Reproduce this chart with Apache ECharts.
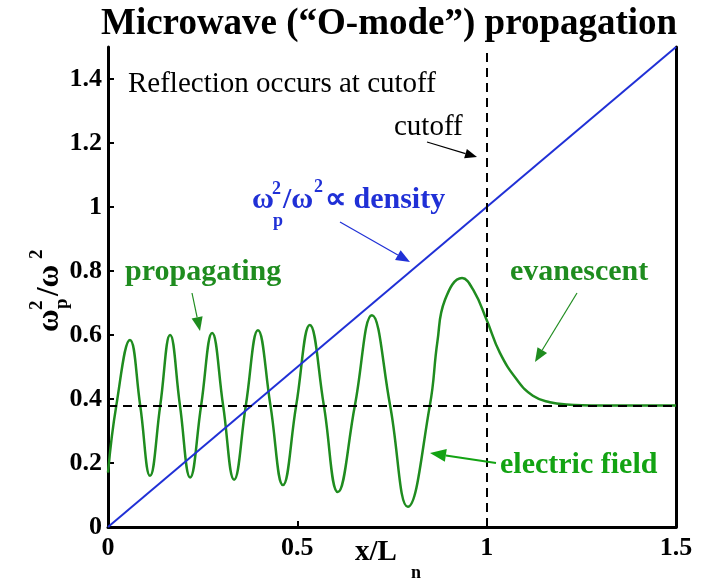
<!DOCTYPE html>
<html>
<head>
<meta charset="UTF-8">
<title>Microwave O-mode propagation</title>
<script src="https://cdn.jsdelivr.net/npm/echarts@6/dist/echarts.min.js"></script>
<style>
    html, body { margin: 0; padding: 0; background: #fff; }
    #chart { width: 702px; height: 581px; }
</style>
</head>
<body>
<div id="chart"></div>
<script>
    // values
    const densityX = [0, 1.5];
    const densityY = [0, 1.5];
    const fieldX = [0, 0.022, 0.058, 0.085, 0.111, 0.138, 0.164, 0.19, 0.217, 0.246, 0.275, 0.304,
        0.333, 0.364, 0.396, 0.429, 0.462, 0.497, 0.533, 0.57, 0.607, 0.652, 0.697, 0.745, 0.792,
        0.85, 0.87, 0.89, 0.935, 0.965, 1.0, 1.035, 1.08, 1.122, 1.167, 1.21, 1.3, 1.5];
    const fieldY = [0.17, 0.38, 0.584, 0.38, 0.16, 0.38, 0.60, 0.38, 0.155, 0.38, 0.606, 0.38,
        0.148, 0.38, 0.615, 0.38, 0.131, 0.38, 0.631, 0.38, 0.109, 0.38, 0.662, 0.38, 0.063,
        0.38, 0.58, 0.71, 0.778, 0.74, 0.647, 0.544, 0.46, 0.41, 0.39, 0.383, 0.38, 0.38];
    const baseline = 0.38;
    const cutoffX = 1;
    const xTicks = [0, 0.5, 1, 1.5];
    const yTicks = [0, 0.2, 0.4, 0.6, 0.8, 1, 1.2, 1.4];

    const serif = 'Liberation Serif';
    const green = '#1f8c1f';
    const brightGreen = '#13a313';
    const blue = '#2030d6';

    const chart = echarts.init(document.getElementById('chart'));

    function zip(xs, ys) {
        return xs.map((x, i) => [x, ys[i]]);
    }

    // line with a filled head at (x2, y2)
    function arrow(x1, y1, x2, y2, color, w, head) {
        const a = Math.atan2(y2 - y1, x2 - x1);
        const bx = x2 - head * Math.cos(a), by = y2 - head * Math.sin(a);
        const hw = head * 0.4;
        return [
            { type: 'line', silent: true, z: 100,
              shape: { x1: x1, y1: y1, x2: bx, y2: by },
              style: { stroke: color, lineWidth: w } },
            { type: 'polygon', silent: true, z: 100,
              shape: { points: [[x2, y2],
                  [bx + hw * Math.sin(a), by - hw * Math.cos(a)],
                  [bx - hw * Math.sin(a), by + hw * Math.cos(a)]] },
              style: { fill: color } }
        ];
    }

    function txt(x, y, text, size, color, weight, vAlign) {
        return { type: 'text', x: x, y: y, z: 100, silent: true,
            style: { text: text, fill: color, font: (weight || 'bold') + ' ' + size + 'px "' + serif + '"',
                     align: 'left', verticalAlign: vAlign || 'middle' } };
    }

    const axisFont = { color: '#000', fontFamily: serif, fontWeight: 'bold', fontSize: 26 };

    const option = {
        animation: false,
        backgroundColor: '#fff',
        title: {
            text: 'Microwave (\u201cO-mode\u201d) propagation',
            left: 96, top: 1,
            textStyle: { fontFamily: serif, fontWeight: 'bold', fontSize: 37, color: '#000' }
        },
        grid: { left: 108, right: 26, top: 47, bottom: 54, containLabel: false, outerBoundsMode: 'none' },
        xAxis: {
            type: 'value', min: 0, max: 1.5, interval: 0.5,
            axisLine: { show: true, lineStyle: { color: '#000', width: 3 } },
            axisTick: { inside: true, length: 6, customValues: xTicks, lineStyle: { color: '#000', width: 2 } },
            axisLabel: Object.assign({ margin: 8, customValues: xTicks }, axisFont),
            splitLine: { show: false }
        },
        yAxis: [{
            type: 'value', min: 0, max: 1.5, interval: 0.2,
            axisLine: { show: true, lineStyle: { color: '#000', width: 3 } },
            axisTick: { show: true, inside: true, length: 6, customValues: yTicks, lineStyle: { color: '#000', width: 2 } },
            axisLabel: Object.assign({ margin: 6, customValues: yTicks }, axisFont),
            splitLine: { show: false }
        }, {
            type: 'value', min: 0, max: 1.5, position: 'right',
            axisLine: { show: true, lineStyle: { color: '#000', width: 3 } },
            axisTick: { show: false }, axisLabel: { show: false }, splitLine: { show: false }
        }],
        series: [{
            type: 'line', data: zip(fieldX, fieldY), showSymbol: false,
            smooth: 0.45, z: 2,
            lineStyle: { color: green, width: 2.5 }
        }, {
            type: 'line', data: zip(densityX, densityY), showSymbol: false, z: 3,
            lineStyle: { color: blue, width: 2 }
        }, {
            type: 'line', data: [], z: 4,
            markLine: {
                silent: true, symbol: ['none', 'none'], label: { show: false },
                lineStyle: { color: '#000', width: 2, type: [9, 6] },
                data: [{ yAxis: baseline }, { xAxis: cutoffX }]
            }
        }],
        graphic: [
            txt(128, 84, 'Reflection occurs at cutoff', 29, '#000', 'normal'),
            txt(394, 127, 'cutoff', 29, '#000', 'normal'),
            ...arrow(427, 142, 477, 157, '#000', 1.2, 12),

            // blue label: wp^2 / w^2 ∝ density
            txt(252, 200, '\u03c9', 30, blue),
            txt(272, 189, '2', 18, blue),
            txt(273, 221, 'p', 18, blue),
            txt(283, 200, '/\u03c9', 30, blue),
            txt(314, 187, '2', 18, blue),
            txt(325, 200, '\u221d density', 30, blue),
            ...arrow(340, 222, 410, 262, blue, 1.2, 14),

            txt(125, 272, 'propagating', 30, green),
            ...arrow(192, 293, 200, 331, green, 1.2, 14),
            txt(510, 272, 'evanescent', 30, green),
            ...arrow(577, 293, 535, 362, green, 1.2, 14),
            txt(500, 465, 'electric field', 30, brightGreen),
            ...arrow(496, 463, 430, 453, brightGreen, 2, 16),

            // x axis name
            txt(355, 553, 'x/L', 29, '#000'),
            txt(411, 573, 'n', 18, '#000'),

            // y axis name, rotated to read upward
            { type: 'group', x: 50, y: 332, rotation: Math.PI / 2, children: [
                txt(0, 0, '\u03c9', 31, '#000'),
                txt(22, -13, '2', 19, '#000'),
                txt(23, 12, 'p', 19, '#000'),
                txt(36, 0, '/\u03c9', 31, '#000'),
                txt(73, -13, '2', 19, '#000')
            ] }
        ]
    };

    chart.setOption(option);
</script>
</body>
</html>
